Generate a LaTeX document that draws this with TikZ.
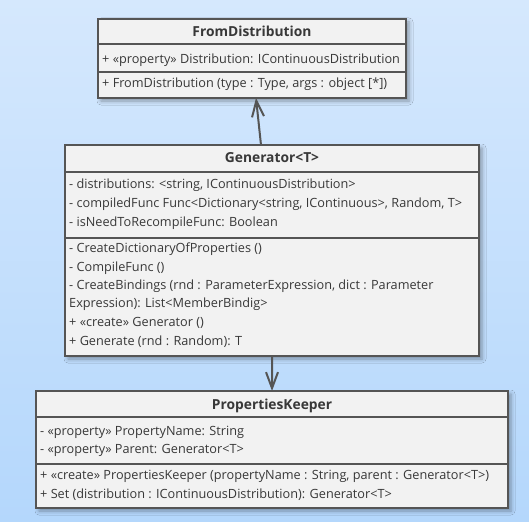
\documentclass[tikz,border=0pt]{standalone}
\usepackage{fontspec}
\setmainfont{Open Sans}
\usetikzlibrary{arrows.meta,shadows.blur,calc}
\definecolor{bgtop}{HTML}{D5E8FD}
\definecolor{bgbot}{HTML}{B4D7FC}
\definecolor{boxfill}{HTML}{F2F2F2}
\definecolor{boxline}{HTML}{555555}
\definecolor{txt}{HTML}{383838}
\begin{document}
\begin{tikzpicture}[x=1bp,y=-1bp,
  umlbox/.style={draw=boxline, line width=2bp, fill=boxfill, inner sep=0, outer sep=0, anchor=north west,
    blur shadow={shadow xshift=3bp, shadow yshift=-3bp, shadow blur radius=4bp, shadow opacity=35}},
  sep/.style={draw=boxline, line width=1.5bp},
  row/.style={anchor=base west, inner sep=0, text=txt, font=\fontsize{12.7bp}{14bp}\selectfont},
  title/.style={anchor=base, inner sep=0, text=txt, font=\fontsize{13.8bp}{16bp}\selectfont\bfseries},
  assoc/.style={draw=boxline, line width=2bp, -{Straight Barb[length=16bp,width=12bp,line width=2bp]}}
]
\shade[top color=bgtop, bottom color=bgbot] (0,0) rectangle (529,522);
\useasboundingbox (0,0) rectangle (529,522);

% FromDistribution
\node[umlbox, minimum width=308bp, minimum height=79bp] (fd) at (98,19) {};
\draw[sep] (fd.west |- 0,44) -- (fd.east |- 0,44);
\draw[sep] (fd.west |- 0,72) -- (fd.east |- 0,72);
\node[title] (fdt) at (fd.north |- 0,36.5) {FromDistribution};
\node[row] (fd1) at (102,63.5) {+ «property» Distribution: IContinuousDistribution};
\node[row] (fd2) at (102,87.5) {+ FromDistribution (type : Type, args : object [*])};

% Generator
\node[umlbox, minimum width=414bp, minimum height=211bp] (gen) at (65,145) {};
\draw[sep] (gen.west |- 0,172) -- (gen.east |- 0,172);
\draw[sep] (gen.west |- 0,238) -- (gen.east |- 0,238);
\node[title] (gent) at (gen.north |- 0,162.5) {Generator<T>};
\node[row] (g1) at (69,188.8) {- distributions: <string, IContinuousDistribution>};
\node[row] (g2) at (69,207.8) {- compiledFunc Func<Dictionary<string, IContinuous>, Random, T>};
\node[row] (g3) at (69,226.5) {- isNeedToRecompileFunc: Boolean};
\node[row] (g4) at (69,252.2) {- CreateDictionaryOfProperties ()};
\node[row] (g5) at (69,271.2) {- CompileFunc ()};
\node[row] (g6) at (69,289.5) {- CreateBindings (rnd : ParameterExpression, dict : Parameter};
\node[row] (g7) at (69,307.8) {Expression): List<MemberBindig>};
\node[row] (g8) at (69,326.8) {+ «create» Generator ()};
\node[row] (g9) at (69,345.5) {+ Generate (rnd : Random): T};

% PropertiesKeeper
\node[umlbox, minimum width=472bp, minimum height=117bp] (pk) at (36,391) {};
\draw[sep] (pk.west |- 0,417) -- (pk.east |- 0,417);
\draw[sep] (pk.west |- 0,464) -- (pk.east |- 0,464);
\node[title] (pkt) at (pk.north |- 0,409.5) {PropertiesKeeper};
\node[row] (p1) at (40,435.2) {- «property» PropertyName: String};
\node[row] (p2) at (40,453.5) {- «property» Parent: Generator<T>};
\node[row] (p3) at (40,479.5) {+ «create» PropertiesKeeper (propertyName : String, parent : Generator<T>)};
\node[row] (p4) at (40,498.2) {+ Set (distribution : IContinuousDistribution): Generator<T>};

% connectors
\draw[assoc] ($(gen.north)+(-11,0)$) -- ($(fd.south)+(4,0)$);
\draw[assoc] (gen.south) -- (pk.north);
\end{tikzpicture}
\end{document}
